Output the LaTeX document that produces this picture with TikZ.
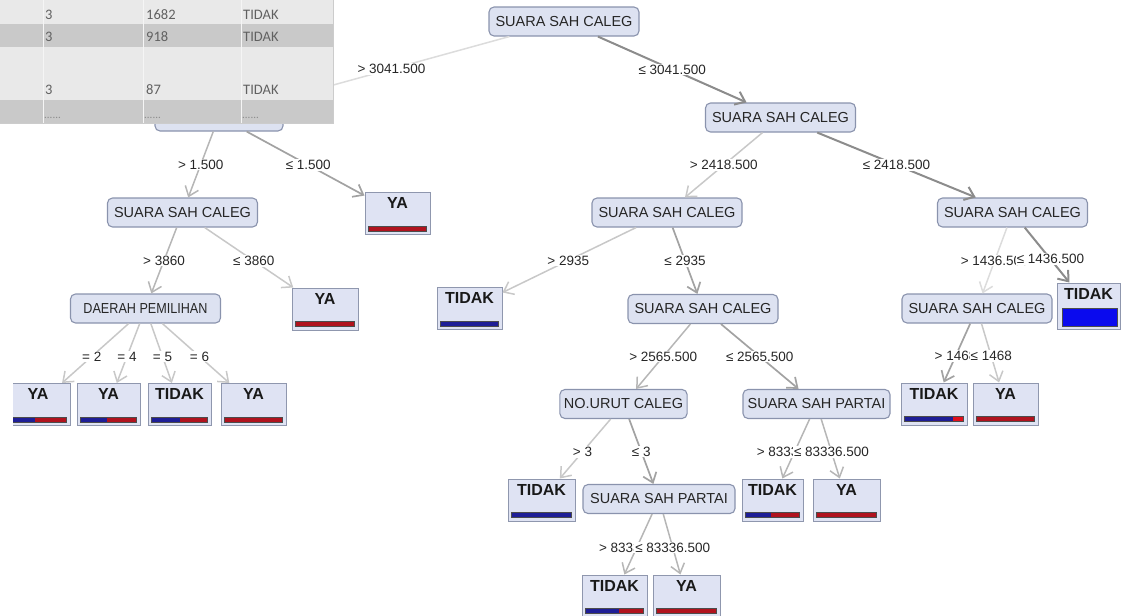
\documentclass[tikz,border=0pt]{standalone}
\usepackage{fontspec}
\setmainfont{Liberation Sans}
\newfontfamily\tablefont{Carlito}
\usetikzlibrary{arrows.meta,calc}

\definecolor{nodefill}{HTML}{DDE2F1}
\definecolor{nodeline}{HTML}{8A93AD}
\definecolor{leaffill}{HTML}{DFE3F3}
\definecolor{leafline}{HTML}{8F97AE}
\definecolor{barblue}{HTML}{1E1E96}
\definecolor{barred}{HTML}{B0131E}
\definecolor{brightred}{HTML}{E0101C}
\definecolor{brightblue}{HTML}{0A0AEE}
\definecolor{cfaint}{HTML}{DCDCDC}
\definecolor{clight}{HTML}{C8C8C8}
\definecolor{cmid}{HTML}{B6B6B6}
\definecolor{cmidtwo}{HTML}{A2A2A2}
\definecolor{cdark}{HTML}{8C8C8C}
\definecolor{tablelight}{HTML}{E9E9E9}
\definecolor{tabledark}{HTML}{C9C9C9}

\tikzset{
  inner/.style={draw=nodeline, fill=nodefill, line width=1.1pt, rounded corners=5pt,
    minimum height=29pt, minimum width=150pt, inner xsep=4pt, inner ysep=0pt,
    font=\fontsize{14.5}{16}\selectfont, text=black!85},
  leafbox/.style={draw=leafline, fill=leaffill, line width=1pt, minimum width=64pt,
    minimum height=42pt, inner sep=0pt},
  leaftext/.style={font=\bfseries\fontsize{16}{18}\selectfont, inner sep=0pt, text=black!90},
  barframe/.style={draw=black!70, line width=0.6pt},
  elabel/.style={fill=white, inner xsep=1pt, inner ysep=1pt,
    font=\fontsize{13.5}{15}\selectfont, text=black!85},
  conn/.style={line width=1.5pt, -{Straight Barb[length=9pt,width=14pt]}},
  connfaint/.style={conn, draw=cfaint},
  connlight/.style={conn, draw=clight},
  connmid/.style={conn, draw=cmid},
  connmidtwo/.style={conn, draw=cmidtwo, line width=1.7pt},
  conndark/.style={conn, draw=cdark, line width=2pt},
  celltext/.style={anchor=west, inner sep=0pt, font=\tablefont\fontsize{14.5}{16}\selectfont, text=black!62},
  celldots/.style={anchor=west, inner sep=0pt, font=\tablefont\fontsize{11}{12}\selectfont, text=black!45}
}

% leaf: name, position, class, blue fraction, width, colour of the rest of the bar
\newcommand\drawleaf[6]{%
  \node[leafbox, minimum width=#5] (#1) at (#2) {};
  \node[leaftext] (#1-t) at ([yshift=-11pt]#1.north) {#3};
  \coordinate (#1-a) at ([xshift=4pt,yshift=4pt]#1.south west);
  \coordinate (#1-b) at ([xshift=-4pt,yshift=9pt]#1.south east);
  \coordinate (#1-m) at ($(#1-a)!#4!(#1-b)$);
  \fill[barblue] (#1-a) rectangle (#1-m |- #1-b);
  \fill[#6] (#1-m |- #1-a) rectangle (#1-b);
  \draw[barframe] (#1-a) rectangle (#1-b);
}

% branch: style, parent, child, label name, condition (label sits halfway between the centres)
\newcommand\branch[5]{%
  \draw[#1] (#2) -- (#3);
  \node[elabel] (#4) at ($(#2)!0.5!(#3)$) {#5};
}

\begin{document}
\begin{tikzpicture}[x=1pt,y=-1pt]
\useasboundingbox (0,0) rectangle (1128,616);

% decision nodes
\node[inner] (root) at (564,21.5) {SUARA SAH CALEG};
\node[inner, minimum width=128pt] (n1) at (219,116.5) {};
\node[inner] (n2) at (780.5,117.5) {SUARA SAH CALEG};
\node[inner] (n3) at (182.5,212.5) {SUARA SAH CALEG};
\node[inner] (n4) at (145.5,308.5) {\scalebox{0.87}[1]{DAERAH PEMILIHAN}};
\node[inner] (n5) at (667,212.5) {SUARA SAH CALEG};
\node[inner] (n6) at (1012.5,212.5) {SUARA SAH CALEG};
\node[inner] (n7) at (703,309) {SUARA SAH CALEG};
\node[inner] (n8) at (977,308.5) {SUARA SAH CALEG};
\node[inner, minimum width=127pt] (n9) at (623.5,404) {NO.URUT CALEG};
\node[inner, minimum width=147pt] (n10) at (816.5,404) {SUARA SAH PARTAI};
\node[inner, minimum width=152pt] (n11) at (659,499) {SUARA SAH PARTAI};

% leaves
\drawleaf{ya1}{397.5,213.5}{YA}{0}{65pt}{barred}
\drawleaf{ya2}{325,309}{YA}{0}{66pt}{barred}
\drawleaf{d1}{38,404.5}{YA}{0.44}{64pt}{barred}
\fill[white] (0,378) rectangle (13,430);
\drawleaf{d2}{108.5,404.5}{YA}{0.47}{63pt}{barred}
\drawleaf{d3}{179.5,404.5}{TIDAK}{0.5}{63pt}{barred}
\drawleaf{d4}{253.5,404.5}{YA}{0}{65pt}{barred}
\drawleaf{t1}{469.5,308.5}{TIDAK}{1}{65pt}{barred}
\drawleaf{t3}{934,404}{TIDAK}{0.82}{66pt}{brightred}
\drawleaf{ya3}{1005.5,404}{YA}{0}{65pt}{barred}
\drawleaf{t4}{541.5,500}{TIDAK}{1}{67pt}{barred}
\drawleaf{t5}{772.5,500}{TIDAK}{0.47}{61pt}{barred}
\drawleaf{ya4}{846.5,500}{YA}{0}{67pt}{barred}
\drawleaf{t6}{614.5,596}{TIDAK}{0.57}{65pt}{barred}
\drawleaf{ya5}{686.5,596}{YA}{0}{67pt}{barred}

% pure leaf with a full bar
\node[leafbox, minimum width=63pt, minimum height=46pt] (t2) at (1088.5,306) {};
\node[leaftext] (t2-t) at ([yshift=-11pt]t2.north) {TIDAK};
\filldraw[fill=brightblue, barframe] ([xshift=6pt,yshift=3pt]t2.south west) rectangle ([xshift=-3pt,yshift=21pt]t2.south east);

% branches
\branch{connfaint}{root}{n1}{e1}{> 3041.500}
\branch{conndark}{root}{n2}{e2}{≤ 3041.500}
\branch{connmid}{n1}{n3}{e3}{> 1.500}
\branch{connmidtwo}{n1}{ya1}{e4}{≤ 1.500}
\branch{connmid}{n3}{n4}{e5}{> 3860}
\branch{connlight}{n3}{ya2}{e6}{≤ 3860}
\branch{connlight}{n4}{d1}{e7}{= 2}
\branch{connlight}{n4}{d2}{e8}{= 4}
\branch{connlight}{n4}{d3}{e9}{= 5}
\branch{connlight}{n4}{d4}{e10}{= 6}
\branch{connlight}{n2}{n5}{e11}{> 2418.500}
\branch{conndark}{n2}{n6}{e12}{≤ 2418.500}
\branch{connlight}{n5}{t1}{e13}{> 2935}
\branch{connmidtwo}{n5}{n7}{e14}{≤ 2935}
\branch{connfaint}{n6}{n8}{e15}{> 1436.500}
\branch{conndark}{n6}{t2}{e16}{≤ 1436.500}
\branch{connmidtwo}{n8}{t3}{e17}{> 1468}
\branch{connlight}{n8}{ya3}{e18}{≤ 1468}
\branch{connmid}{n7}{n9}{e19}{> 2565.500}
\branch{connmidtwo}{n7}{n10}{e20}{≤ 2565.500}
\branch{connlight}{n9}{t4}{e21}{> 3}
\branch{connmidtwo}{n9}{n11}{e22}{≤ 3}
\branch{connmid}{n10}{t5}{e23}{> 83336.500}
\branch{connmid}{n10}{ya4}{e24}{≤ 83336.500}
\branch{connmid}{n11}{t6}{e25}{> 83336.500}
\branch{connmid}{n11}{ya5}{e26}{≤ 83336.500}

% data table lying over the upper left corner
\fill[tablelight] (0,0) rectangle (333,123);
\fill[tabledark] (0,24) rectangle (333,47);
\fill[tabledark] (0,100) rectangle (333,123);
\foreach \cx in {43,143,241} \draw[white!92!gray, line width=0.8pt] (\cx,0) -- (\cx,123);
\draw[gray!40, line width=0.8pt] (333,0) -- (333,123) -- (0,123);
\node[celltext] (r1a) at (45,15) {3};
\node[celltext] (r1b) at (146,15) {1682};
\node[celltext] (r1c) at (243,15) {TIDAK};
\node[celltext] (r2a) at (45,37) {3};
\node[celltext] (r2b) at (146,37) {918};
\node[celltext] (r2c) at (243,37) {TIDAK};
\node[celltext] (r3a) at (45,90) {3};
\node[celltext] (r3b) at (146,90) {87};
\node[celltext] (r3c) at (243,90) {TIDAK};
\node[celldots] (r4a) at (44,118) {......};
\node[celldots] (r4b) at (144,118) {......};
\node[celldots] (r4c) at (242,118) {......};
\end{tikzpicture}
\end{document}
